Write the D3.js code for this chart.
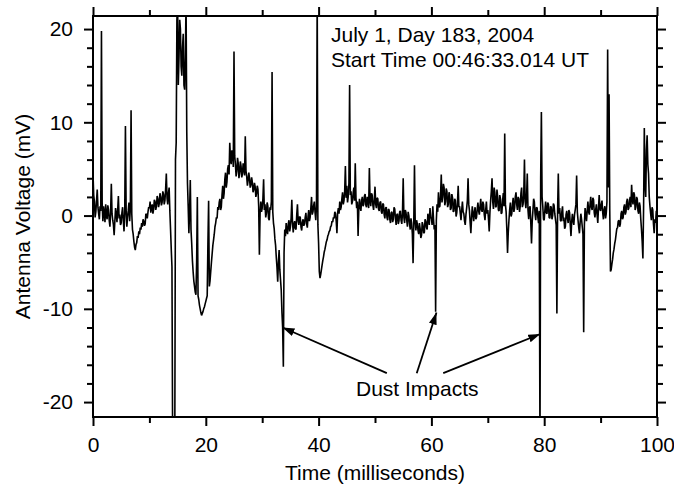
<!DOCTYPE html>
<html>
<head>
<meta charset="utf-8">
<script src="https://cdn.jsdelivr.net/npm/d3@7"></script>
<style>
    body { margin: 0; background: #fff; }
    text { font-family: "Liberation Sans", Arial, Helvetica, sans-serif; fill: #000; }
</style>
</head>
<body>
<script>
// antenna voltage trace, one sample every 0.125 ms, 5 ms per row
var sampleStep = 0.125;
var volts = [
    4.5, 2.2, 1.5, -0.2, 0.4, 1.6, 2.8, 0.9, 0.2, -0.4, 1.0, 0.5, 19.8, 1.4, -0.6, 1.0, 0.3, -0.7, 1.2, 0.0,
    -0.4, 1.1, 0.6, -0.5, -1.2, 0.4, 3.4, 0.2, -0.5, -1.0, -2.1, -0.6, 0.8, 0.2, -0.7, 0.6, 2.1, -0.3, 0.1, -1.0,     // 0
    -0.8, 0.3, 0.9, -0.5, -1.7, 0.2, 9.6, 0.6, -1.2, -0.2, 0.5, 1.4, -0.6, 0.8, 11.3, 0.2, -1.5, -2.0, -2.8, -3.4,
    -3.7, -3.1, -2.9, -2.2, -2.4, -1.7, -2.0, -1.3, -1.5, -0.8, -1.2, -0.4, -0.6, -1.1, -0.9, 0.2, 0.1, -0.3, 0.4, 0.9, // 5
    0.8, 1.5, 0.3, 0.9, 1.2, 0.2, 0.7, 1.7, 1.5, 0.6, 1.0, 2.1, 1.8, 0.9, 1.3, 2.4, 2.0, 1.1, 1.4, 2.6,
    2.3, 1.2, 1.6, 2.8, 4.5, 1.9, 1.2, 2.4, 3.0, 0.5, -1.5, -3.6, -5.5, -25, -25, -25, -25, 6.0, 7.8, 21,             // 10
    23, 14, 17, 21, 20, 16, 15, 18, 19.5, 14, 13.5, 17, 23, 9, 3.5, 1.0, -1.9, 0.5, 3.8, -1.5,
    -3.0, -4.8, -6.0, -7.0, -7.6, -8.2, -8.5, -5.0, 2.0, -8.6, -9.0, -9.6, -10.0, -10.4, -10.7, -10.5, -10.3, -10.0, -9.8, -9.5, // 15
    -9.2, -8.9, -8.6, -3.0, 1.6, -7.6, -7.0, -6.0, -5.0, -4.1, -3.2, -2.6, -2.0, -1.2, -0.8, -0.2, -0.3, 0.9, 0.6, 1.4,
    1.8, 0.6, 0.9, 2.2, 3.2, 1.8, 2.4, 3.9, 4.6, 3.0, 3.6, 5.0, 5.4, 4.4, 7.8, 6.2, 5.5, 7.0, 6.8, 5.2,               // 20
    17.6, 6.4, 5.5, 4.2, 4.8, 6.2, 5.6, 4.0, 4.6, 5.8, 5.3, 4.1, 4.5, 5.6, 5.0, 4.3, 8.5, 4.8, 4.2, 3.2,
    3.8, 4.6, 4.0, 3.0, 3.3, 4.1, 3.6, 2.5, 2.8, 3.5, 3.1, 2.0, 2.4, 3.2, 2.8, 1.0, -4.2, 0.2, 1.5, 0.4,             // 25
    0.8, 1.8, 3.9, 0.6, 1.2, -0.2, 0.3, 1.4, 1.0, -0.3, -0.5, 0.9, 0.6, 1.5, 15.4, 0.4, -0.8, -1.4, -2.5, -3.2,
    -4.5, -5.6, -7.1, -5.0, -3.7, -5.8, -6.9, -8.0, -10.4, -12.0, -16.2, -4.0, -1.5, -2.2, -0.8, -1.6, -2.0, -0.9, -0.5, -1.7, // 30
    -1.2, -0.3, 1.7, -0.8, -1.8, -0.9, -0.6, -1.4, -1.5, 0.1, 1.2, -0.6, -1.0, -0.1, -0.2, -1.2, -1.6, -0.7, -0.4, -1.1,
    -0.9, -0.2, 0.3, -0.9, -1.3, -0.1, 0.6, -0.6, -0.2, 0.8, 2.0, 0.1, 0.4, 1.1, 1.5, 0.3, -0.5, 1.0, 24, -1.0,       // 35
    -3.0, -6.0, -6.7, -6.3, -5.8, -5.3, -4.8, -4.4, -3.9, -3.6, -3.2, -2.8, -2.6, -2.2, -2.0, -1.7, -1.6, -1.2, -1.1, -0.6,
    -0.7, -0.2, -0.3, 0.4, 0.2, -0.6, -1.9, 0.3, 0.8, 0.2, 1.5, 0.6, 0.9, 1.8, 2.5, 1.2, 1.6, 2.6, 5.3, 1.9,         // 40
    3.2, 1.4, 2.0, 3.5, 14.0, 2.2, 2.6, 1.2, 1.5, 2.4, 3.0, 1.6, 5.6, 1.9, 0.8, 1.5, -2.2, 0.6, 1.8, 0.9,
    0.5, 1.6, 2.0, 1.0, 1.2, 2.1, 2.3, 1.1, 0.9, 2.0, 1.7, 0.8, 5.1, 1.6, 1.0, 2.4, 2.2, 1.1, 0.6, 1.7,              // 45
    3.1, 1.2, 0.8, 1.9, 1.8, 0.7, 0.5, 1.4, 1.5, 0.4, 0.2, 1.3, 1.2, 0.1, -0.3, 0.8, 0.9, -0.2, -0.5, 0.7,
    0.6, -0.4, -0.8, 0.3, 0.4, -0.7, -0.4, 0.9, 0.7, -0.3, -1.0, 0.1, 0.2, -0.9, -0.6, 0.4, 0.5, -0.5, -0.9, 0.3,    // 50
    4.0, -0.2, -0.8, 0.6, 0.3, -0.5, -1.2, 0.4, 0.0, -0.9, -1.5, -0.3, -0.8, -2.0, -5.1, -0.8, 5.4, -0.6, -1.6, -0.5,
    -0.9, -1.6, -2.0, -0.8, -1.4, -2.4, -2.1, -0.7, -1.0, -1.9, -1.8, -0.4, -0.6, -1.3, -1.5, 0.2, -0.4, -1.0, 0.8, -0.2, // 55
    -0.3, -1.0, 1.0, -0.4, -1.5, -1.0, -10.3, -0.5, 1.2, 0.4, 2.5, 0.9, 1.0, 2.2, 4.4, 1.4, 2.0, 3.4, 3.0, 1.1,
    1.5, 2.9, 2.6, 0.9, 1.2, 2.5, 2.2, 0.6, 0.8, 2.3, 1.9, 0.4, 0.5, 1.8, 1.6, -0.1, 0.3, 1.4, 3.2, 0.9,             // 60
    1.0, 0.2, -0.5, 0.6, 1.5, 0.4, 0.2, -0.6, -1.0, 0.1, 0.8, 1.6, 4.0, 1.2, 0.5, -0.8, -1.9, -0.2, 1.0, 0.2,
    -0.6, 0.4, 0.9, -0.4, -0.2, 0.7, 1.4, 0.5, 0.1, 1.0, 1.8, 0.6, 0.4, 1.5, 1.2, 0.1, -0.5, 0.6, 1.5, 0.2,          // 65
    0.6, -0.4, -1.7, 0.3, 1.6, 2.6, 4.0, 1.5, 0.7, 3.0, 2.5, 0.9, 1.0, 2.8, 2.0, 0.6, 0.5, 2.2, 1.8, 0.2,
    0.3, 1.6, 2.4, 1.0, 8.8, 1.2, 0.4, -1.5, -4.0, -1.8, -0.5, 0.6, 1.4, -0.1, 0.2, 1.2, 1.9, 0.4, 0.8, 2.0,         // 70
    2.5, 1.2, 0.6, 2.0, 1.8, 0.4, 1.0, 2.4, 3.0, 0.9, 1.2, 2.2, 6.0, 1.5, 0.8, 2.0, 4.5, 0.6, -0.4, 0.8,
    1.0, -0.8, -3.0, -0.6, 0.5, 1.8, 1.5, 0.2, -0.5, 0.9, 0.8, -0.2, -0.8, 0.5, -25, 4.0, 11.1, 2.0, 1.0, -0.4,      // 75
    -0.5, 0.6, 1.5, 0.3, 0.2, 1.4, 1.2, -0.2, -0.3, 1.0, 0.9, -0.4, 0.0, 1.3, 1.1, 0.2, -0.4, -1.0, -10.5, 0.5,
    4.5, 0.2, 0.8, -0.5, -0.6, 0.4, 1.0, -0.6, -0.2, -1.4, -1.2, 0.1, 0.5, -0.3, -0.8, 0.6, 0.3, -1.0, -2.2, -0.6,   // 80
    0.2, -0.6, -1.0, 0.1, 0.6, 1.2, 4.3, 0.4, -0.5, -1.3, -1.9, -0.7, 0.2, -0.4, -1.2, -2.0, -12.5, -1.0, 0.8, 0.1,
    -0.6, 0.5, 1.5, 0.4, 0.1, 1.2, 2.0, 0.9, 0.6, 1.9, 1.7, 0.3, -0.2, 0.6, 1.2, 0.1, -0.8, 0.8, 2.2, 0.7,           // 85
    0.5, 1.2, 1.6, 0.3, -0.4, 0.6, 1.0, -0.3, 0.2, 1.5, 17.8, 3.0, 13.0, 0.5, -6.0, -5.8, -5.2, -4.7, -4.0, -3.6,
    -3.0, -2.6, -2.0, -1.4, -1.3, -0.6, -0.5, -1.2, -0.9, 0.2, 0.5, -0.4, -0.2, 0.9, 1.2, 0.1, 0.4, 1.5, 1.8, 0.6,   // 90
    0.8, 1.6, 2.0, 0.9, 3.3, 1.7, 1.2, 2.5, 2.2, 0.6, 0.9, 2.0, 1.8, 0.5, 0.2, 1.4, 1.0, -0.4, -1.5, -2.8,
    -4.6, 1.0, 9.4, 3.5, 2.0, 7.0, 8.6, 5.5, 4.5, 2.0, 1.0, 0.2, -0.5, 0.9, 0.6, -0.9, -1.9, -0.4, -0.8, 0.5,        // 95
    0.2                                                                                                            // 100
];

var xMajor = [0, 20, 40, 60, 80, 100];
var xMinor = [10, 30, 50, 70, 90];
var yMajor = [-20, -10, 0, 10, 20];
var yMinor = [-18, -16, -14, -12, -8, -6, -4, -2, 2, 4, 6, 8, 12, 14, 16, 18];

var titleLines = ["July 1, Day 183, 2004", "Start Time 00:46:33.014 UT"];
var impactLabel = "Dust Impacts";
var impactTips = [[33.6, -12.0], [60.9, -10.4], [79.3, -12.7]]; // arrow heads, in data units
var impactTails = [[52.1, -16.9], [57.4, -16.9], [62.1, -16.9]];

window.onload = function(){
    var w = 674, h = 489;
    var left = 93, right = 657, top = 16, bottom = 417;

    var svg = d3.select("body")
        .append("svg")
        .attr("width", w)
        .attr("height", h);

    var x = d3.scaleLinear()
        .domain([0, 100])
        .range([left, right]);

    var y = d3.scaleLinear()
        .domain([-21.6, 21.4])
        .range([bottom, top]);

    var samples = volts.map(function(v, i){
        return { t: i * sampleStep, v: v };
    });

    svg.append("clipPath")
        .attr("id", "plotClip")
        .append("rect")
        .attr("x", left)
        .attr("y", top)
        .attr("width", right - left)
        .attr("height", bottom - top);

    var line = d3.line()
        .x(function(d){ return x(d.t); })
        .y(function(d){ return y(d.v); });

    svg.append("path")
        .datum(samples)
        .attr("clip-path", "url(#plotClip)")
        .attr("d", line)
        .style("fill", "none")
        .style("stroke", "#000")
        .style("stroke-width", 1.6)
        .style("stroke-linejoin", "bevel");

    // axes: major ticks with labels, minor ticks without, on all four sides
    var fmt = function(d){ return String(d); };

    function addAxis(gen, tx, ty){
        var g = svg.append("g")
            .attr("transform", "translate(" + tx + "," + ty + ")")
            .call(gen);
        g.select(".domain").remove();
        g.selectAll("line").style("stroke", "#000").style("stroke-width", 2);
        g.selectAll("text").style("font-size", "21px").style("font-family", "Liberation Sans, Arial, sans-serif");
        return g;
    }

    addAxis(d3.axisBottom(x).tickValues(xMajor).tickSize(9).tickPadding(11).tickFormat(fmt), 0, bottom);
    addAxis(d3.axisBottom(x).tickValues(xMinor).tickSize(6).tickFormat(""), 0, bottom);
    addAxis(d3.axisTop(x).tickValues(xMajor).tickSize(9).tickFormat(""), 0, top);
    addAxis(d3.axisTop(x).tickValues(xMinor).tickSize(6).tickFormat(""), 0, top);
    addAxis(d3.axisLeft(y).tickValues(yMajor).tickSize(9).tickPadding(11).tickFormat(fmt), left, 0);
    addAxis(d3.axisLeft(y).tickValues(yMinor).tickSize(6).tickFormat(""), left, 0);
    addAxis(d3.axisRight(y).tickValues(yMajor).tickSize(9).tickFormat(""), right, 0);
    addAxis(d3.axisRight(y).tickValues(yMinor).tickSize(6).tickFormat(""), right, 0);

    svg.append("rect") // plot frame
        .attr("x", left)
        .attr("y", top)
        .attr("width", right - left)
        .attr("height", bottom - top)
        .style("fill", "none")
        .style("stroke", "#000")
        .style("stroke-width", 2);

    // axis titles
    svg.append("text")
        .attr("x", (left + right) / 2)
        .attr("y", 480)
        .attr("text-anchor", "middle")
        .style("font-size", "21px")
        .text("Time (milliseconds)");

    svg.append("text")
        .attr("transform", "translate(30," + ((top + bottom) / 2) + ") rotate(-90)")
        .attr("text-anchor", "middle")
        .style("font-size", "21px")
        .text("Antenna Voltage (mV)");

    // date / start time
    svg.selectAll(".titleLine")
        .data(titleLines)
        .enter()
        .append("text")
        .attr("class", "titleLine")
        .attr("x", 331)
        .attr("y", function(d, i){ return 42 + i * 24.5; })
        .style("font-size", "21px")
        .text(function(d){ return d; });

    // dust impact annotation
    svg.append("defs")
        .append("marker")
        .attr("id", "head")
        .attr("markerUnits", "userSpaceOnUse")
        .attr("viewBox", "0 0 12 8")
        .attr("refX", 12)
        .attr("refY", 4)
        .attr("markerWidth", 12)
        .attr("markerHeight", 8)
        .attr("orient", "auto")
        .append("path")
        .attr("d", "M0,0 L12,4 L0,8 Z")
        .style("fill", "#000");

    svg.selectAll(".impactArrow")
        .data(impactTips)
        .enter()
        .append("line")
        .attr("class", "impactArrow")
        .attr("x1", function(d, i){ return x(impactTails[i][0]); })
        .attr("y1", function(d, i){ return y(impactTails[i][1]); })
        .attr("x2", function(d){ return x(d[0]); })
        .attr("y2", function(d){ return y(d[1]); })
        .style("stroke", "#000")
        .style("stroke-width", 1.8)
        .attr("marker-end", "url(#head)");

    svg.append("text")
        .attr("x", 356)
        .attr("y", 396)
        .style("font-size", "21px")
        .text(impactLabel);
};
</script>
</body>
</html>
